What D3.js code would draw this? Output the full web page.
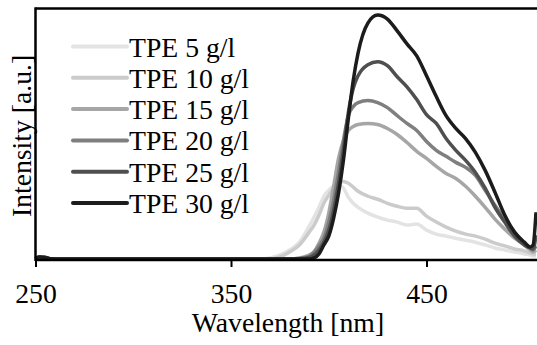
<!DOCTYPE html>
<html>
<head>
<meta charset="utf-8">
<script src="https://cdn.jsdelivr.net/npm/d3@7"></script>
<style>
  body { margin: 0; background: #fff; }
  svg { display: block; }
  text { font-family: "Liberation Serif", "Times New Roman", serif; fill: #000; }
</style>
</head>
<body>
<script>
// chart data (intensity in a.u., 0..1000)
var wavelengths = [250, 252, 255, 258, 262, 300, 340, 360, 365, 370, 375, 380, 385, 390, 392.5, 395, 397.5,
  400, 402.5, 405, 407.5, 410, 412.5, 415, 420, 425, 430, 435, 440, 445, 450, 455, 460, 465, 470, 475,
  480, 485, 490, 495, 500, 503, 504.5, 506];

var tpe5  = [6, 12, 10, 5, 4, 4, 4, 4, 4, 8, 20, 40, 71, 135, 171, 210, 254,
  278, 294, 298, 286, 250, 226, 210, 187, 171, 159, 151, 139, 143, 119, 103, 95, 87, 79, 71,
  60, 48, 40, 32, 24, 20, 16, 16];
var tpe10 = [6, 12, 10, 5, 4, 4, 4, 4, 4, 4, 12, 32, 60, 111, 139, 179, 226,
  258, 286, 306, 313, 306, 290, 274, 254, 242, 226, 214, 206, 206, 175, 151, 131, 115, 103, 95,
  83, 67, 56, 44, 36, 28, 24, 24];
var tpe15 = [6, 12, 10, 5, 4, 4, 4, 4, 4, 4, 4, 4, 8, 20, 32, 67, 111,
  187, 294, 405, 476, 516, 532, 540, 544, 540, 524, 500, 468, 433, 405, 373, 345, 325, 294, 254,
  210, 163, 123, 87, 60, 40, 32, 40];
var tpe20 = [6, 12, 10, 5, 4, 4, 4, 4, 4, 4, 4, 4, 6, 14, 32, 56, 87,
  151, 238, 349, 476, 575, 611, 627, 635, 627, 607, 575, 544, 516, 472, 437, 413, 389, 369, 337,
  278, 218, 163, 111, 67, 48, 40, 56];
var tpe25 = [6, 12, 10, 5, 4, 4, 4, 4, 4, 4, 4, 4, 5, 10, 20, 40, 71,
  119, 198, 306, 437, 587, 683, 734, 778, 790, 774, 730, 690, 639, 579, 544, 484, 437, 397, 349,
  286, 210, 151, 95, 60, 48, 44, 99];
var tpe30 = [6, 12, 10, 5, 4, 4, 4, 4, 4, 4, 4, 4, 4, 4, 8, 24, 60,
  95, 167, 266, 397, 563, 714, 825, 944, 976, 960, 913, 861, 813, 734, 651, 575, 524, 484, 429,
  357, 270, 179, 111, 71, 52, 60, 190];

var seriesNames = ["TPE 5 g/l", "TPE 10 g/l", "TPE 15 g/l", "TPE 20 g/l", "TPE 25 g/l", "TPE 30 g/l"];
var seriesValues = [tpe5, tpe10, tpe15, tpe20, tpe25, tpe30];
var seriesColors = ["#e3e3e3", "#cbcbcb", "#a6a6a6", "#7f7f7f", "#4f4f4f", "#1c1c1c"];
var xTicks = [250, 350, 450];

var width = 537, height = 345;
// note: don't call these top/left globals, window.top is read only
var plotLeft = 35.5, plotRight = 536, plotTop = 8.5, plotBottom = 260;
var fontSize = "27.7px";

var svg = d3.select("body").append("svg")
    .attr("width", width)
    .attr("height", height);

// scales
var x = d3.scaleLinear().domain([250, 506]).range([plotLeft, plotRight]);
var y = d3.scaleLinear().domain([0, 1000]).range([plotBottom, plotTop + 0.5]);

var line = d3.line()
    .curve(d3.curveMonotoneX)
    .x(function(d) { return x(d[0]); })
    .y(function(d) { return y(d[1]); });

// curves, lightest first so the darker ones sit on top
seriesValues.forEach(function(vals, i) {
  var pts = wavelengths.map(function(w, j) { return [w, vals[j]]; });
  svg.append("path")
      .datum(pts)
      .attr("fill", "none")
      .attr("stroke", seriesColors[i])
      .attr("stroke-width", 3.5)
      .attr("stroke-linejoin", "round")
      .attr("d", line);
});

// frame: top and left
svg.append("line")
    .attr("x1", plotLeft).attr("x2", width)
    .attr("y1", plotTop).attr("y2", plotTop)
    .attr("stroke", "#000").attr("stroke-width", 2.5);
svg.append("line")
    .attr("x1", plotLeft).attr("x2", plotLeft)
    .attr("y1", plotTop - 1.2).attr("y2", plotBottom + 1)
    .attr("stroke", "#000").attr("stroke-width", 2.5);

// x axis
var xAxis = svg.append("g")
    .attr("transform", "translate(0," + plotBottom + ")")
    .call(d3.axisBottom(x).tickValues(xTicks).tickSize(7).tickPadding(16).tickFormat(d3.format("d")));
xAxis.select(".domain").attr("d", "M" + plotLeft + ",0H" + width).attr("stroke-width", 2.5);
xAxis.selectAll(".tick line").attr("stroke-width", 2);
xAxis.selectAll(".tick text")
    .style("font-family", "'Liberation Serif', serif")
    .style("font-size", fontSize)
    .attr("fill", "#000");

// axis titles
svg.append("text")
    .attr("x", 288)
    .attr("y", 332)
    .attr("text-anchor", "middle")
    .style("font-size", fontSize)
    .text("Wavelength [nm]");

svg.append("text")
    .attr("transform", "translate(31,136) rotate(-90)")
    .attr("text-anchor", "middle")
    .style("font-size", fontSize)
    .text("Intensity [a.u.]");

// legend
var legend = svg.append("g");
seriesNames.forEach(function(name, i) {
  var ly = 46.5 + i * 31.3;
  legend.append("line")
      .attr("x1", 73).attr("x2", 127)
      .attr("y1", ly).attr("y2", ly)
      .attr("stroke", seriesColors[i])
      .attr("stroke-width", 4)
      .attr("stroke-linecap", "round");
  legend.append("text")
      .attr("x", 129)
      .attr("y", ly + 10)
      .style("font-size", fontSize)
      .text(name);
});
</script>
</body>
</html>
